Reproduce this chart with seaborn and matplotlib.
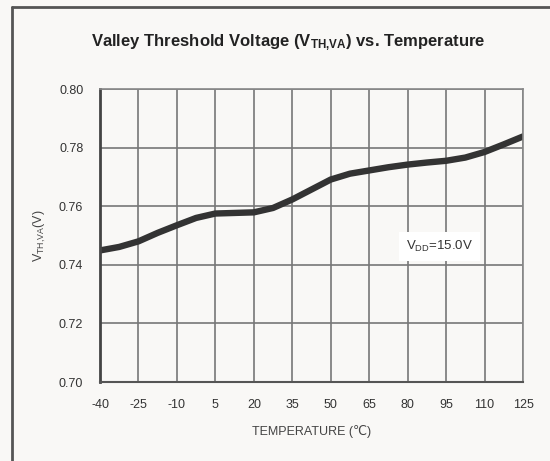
import matplotlib
matplotlib.use("Agg")
import matplotlib.pyplot as plt
import seaborn as sns
import pandas as pd
from matplotlib.lines import Line2D

# curve readings (every 7.5 degC)
temperature = [-40, -32.5, -25, -17.5, -10, -2.5, 5, 12.5, 20, 27.5, 35, 42.5,
               50, 57.5, 65, 72.5, 80, 87.5, 95, 102.5, 110, 117.5, 125]
vth_va = [0.7449, 0.7461, 0.7480, 0.7509, 0.7535, 0.7560, 0.7575, 0.7577, 0.7579,
          0.7594, 0.7623, 0.7657, 0.7691, 0.7711, 0.7722, 0.7733, 0.7742, 0.7749,
          0.7755, 0.7766, 0.7785, 0.7811, 0.7838]
x_ticks = [-40, -25, -10, 5, 20, 35, 50, 65, 80, 95, 110, 125]
y_ticks = [0.70, 0.72, 0.74, 0.76, 0.78, 0.80]

sns.set_theme(style="white")
plt.rcParams['font.family'] = ['Liberation Sans', 'DejaVu Sans', 'Noto Sans CJK SC']
plt.rcParams['mathtext.fontset'] = 'custom'
plt.rcParams['mathtext.rm'] = 'Liberation Sans'
plt.rcParams['mathtext.bf'] = 'Liberation Sans:bold'
plt.rcParams['mathtext.default'] = 'regular'

bg = '#f9f8f6'
fig = plt.figure(figsize=(5.5, 4.61), dpi=100, facecolor=bg)
ax = fig.add_axes([100/550, 1-382/461, 423/550, 293/461])
ax.set_facecolor(bg)

df = pd.DataFrame({'T': temperature, 'V': vth_va})
sns.lineplot(data=df, x='T', y='V', ax=ax, color='#333333', linewidth=4.6,
             solid_capstyle='round', solid_joinstyle='round')

ax.set_xlim(-40, 125)
ax.set_ylim(0.70, 0.80)
ax.set_xticks(x_ticks)
ax.set_xticklabels([str(t) for t in x_ticks])
ax.set_yticks(y_ticks)
ax.set_yticklabels([f"{v:.2f}" for v in y_ticks])
ax.grid(True, color='#777777', linewidth=1.2)
ax.set_axisbelow(True)
ax.tick_params(axis='both', labelsize=9, colors='#333333', length=0, pad=12)
ax.tick_params(axis='y', length=3, color='#555555', width=1, pad=9)

for side in ['top', 'right']:
    ax.spines[side].set_color('#888888')
    ax.spines[side].set_linewidth(1.2)
ax.spines['left'].set_color('#444444')
ax.spines['left'].set_linewidth(2)
ax.spines['bottom'].set_color('#555555')
ax.spines['bottom'].set_linewidth(1.5)

ax.set_xlabel('TEMPERATURE (℃)', fontsize=9, color='#444444', labelpad=10)
ax.set_ylabel(r'V$_{TH{,}VA}$(V)', fontsize=9, color='#444444', labelpad=8)

fig.text(288/550, 1-43/461, r'Valley Threshold Voltage (V$_{\mathbf{TH{,}VA}}$) vs. Temperature',
         ha='center', va='center', fontsize=12, fontweight='bold', color='#222222')

ax.text(92.6, 0.7464, r'V$_{DD}$=15.0V', ha='center', va='center', fontsize=9.5,
        color='#333333', bbox=dict(facecolor='white', edgecolor='none', pad=5))

# outer frame (top and left edges visible)
fig.add_artist(Line2D([12/550, 1], [1-7/461, 1-7/461], transform=fig.transFigure,
                      color='#555555', linewidth=2))
fig.add_artist(Line2D([12/550, 12/550], [0, 1-7/461], transform=fig.transFigure,
                      color='#555555', linewidth=2))

fig.savefig('out.png', dpi=100, facecolor=bg)
